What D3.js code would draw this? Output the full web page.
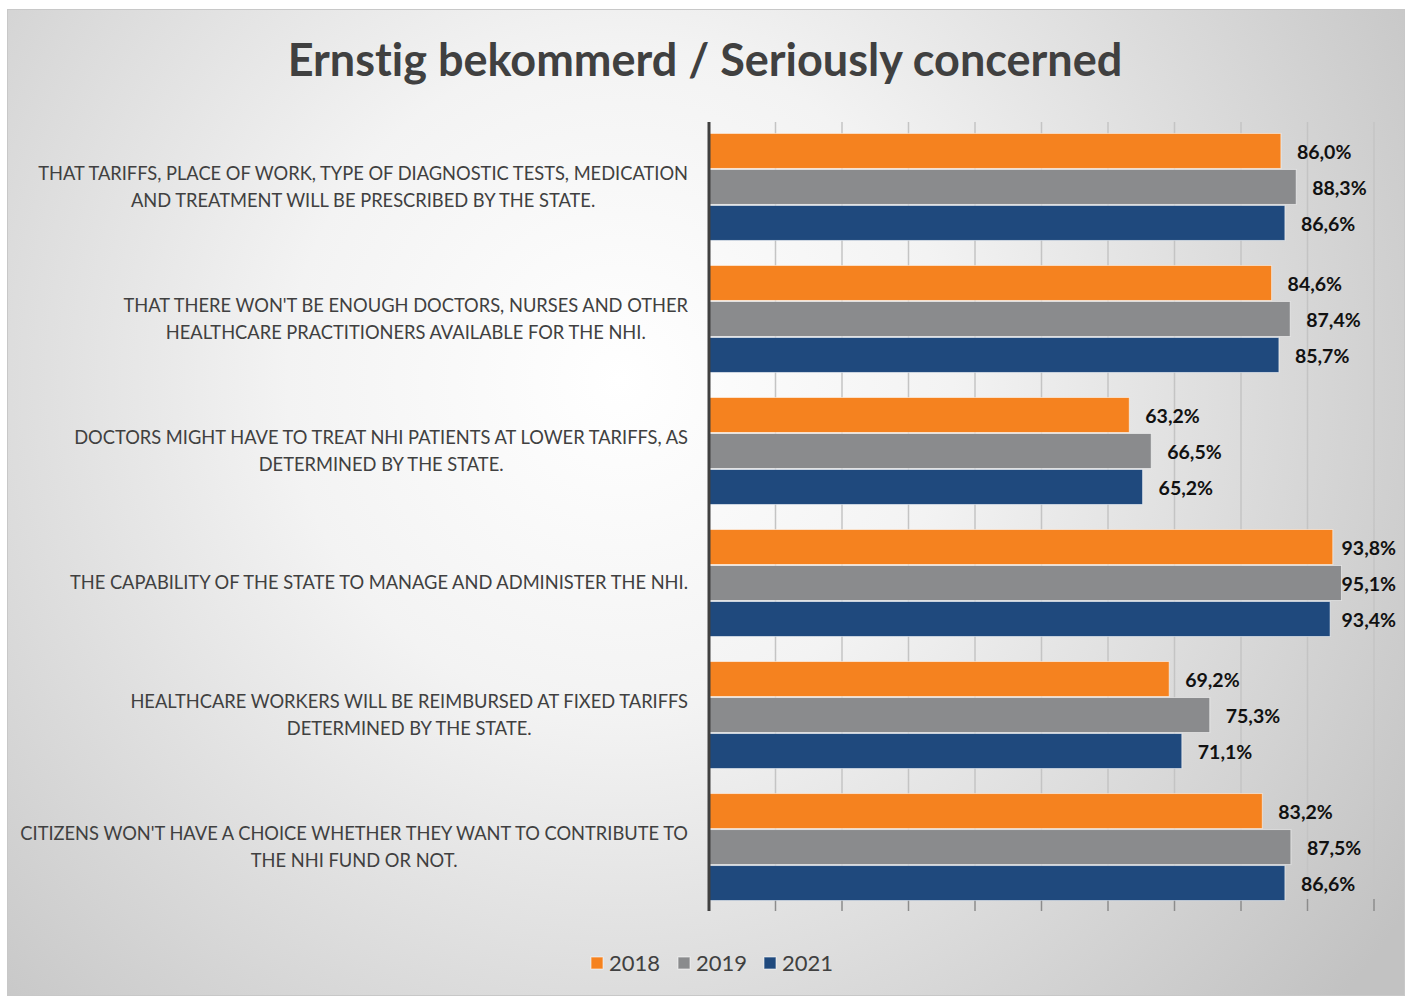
<!DOCTYPE html>
<html>
<head>
<meta charset="utf-8">
<script src="https://cdn.jsdelivr.net/npm/d3@7"></script>
<style>
  body { margin: 0; background: #fff; }
  text { font-family: Lato, "Open Sans", sans-serif; font-variant-ligatures: none; }
</style>
</head>
<body>
<script>
(function() {

    var categories = [
        ["THAT TARIFFS, PLACE OF WORK, TYPE OF DIAGNOSTIC TESTS, MEDICATION", "AND TREATMENT WILL BE PRESCRIBED BY THE STATE."],
        ["THAT THERE WON'T BE ENOUGH DOCTORS, NURSES AND OTHER", "HEALTHCARE PRACTITIONERS AVAILABLE FOR THE NHI."],
        ["DOCTORS MIGHT HAVE TO TREAT NHI PATIENTS AT LOWER TARIFFS, AS", "DETERMINED BY THE STATE."],
        ["THE CAPABILITY OF THE STATE TO MANAGE AND ADMINISTER THE NHI."],
        ["HEALTHCARE WORKERS WILL BE REIMBURSED AT FIXED TARIFFS", "DETERMINED BY THE STATE."],
        ["CITIZENS WON'T HAVE A CHOICE WHETHER THEY WANT TO CONTRIBUTE TO", "THE NHI FUND OR NOT."]
    ];

    var series = ['2018', '2019', '2021'];
    var values2018 = [86.0, 84.6, 63.2, 93.8, 69.2, 83.2];
    var values2019 = [88.3, 87.4, 66.5, 95.1, 75.3, 87.5];
    var values2021 = [86.6, 85.7, 65.2, 93.4, 71.1, 86.6];
    var colours = ['#F5821F', '#8A8B8D', '#1F497D'];
    var xTicks = [0, 10, 20, 30, 40, 50, 60, 70, 80, 90, 100];

    var seriesValues = [values2018, values2019, values2021];

    var W = 1408, H = 996;
    var svg = d3.select('body').append('svg')
        .attr('width', W)
        .attr('height', H);

    // background gradient
    var defs = svg.append('defs');
    var grad = defs.append('radialGradient')
        .attr('id', 'bg')
        .attr('gradientUnits', 'userSpaceOnUse')
        .attr('cx', 620).attr('cy', 380).attr('r', 950);
    grad.append('stop').attr('offset', '0').attr('stop-color', '#ffffff');
    grad.append('stop').attr('offset', '0.35').attr('stop-color', '#f3f3f3');
    grad.append('stop').attr('offset', '1').attr('stop-color', '#c2c2c2');

    svg.append('rect')
        .attr('x', 7.5).attr('y', 9.5)
        .attr('width', 1397).attr('height', 986)
        .attr('fill', 'url(#bg)')
        .attr('stroke', '#c8c8c8');

    // title
    svg.append('text')
        .attr('x', 705).attr('y', 76)
        .attr('text-anchor', 'middle')
        .attr('font-size', 45)
        .attr('font-weight', 'bold')
        .attr('fill', '#404040')
        .text('Ernstig bekommerd / Seriously concerned');

    var x = d3.scaleLinear().domain([0, 100]).range([709, 1374]);

    var y = d3.scaleBand()
        .domain(d3.range(categories.length))
        .range([122, 912])
        .paddingInner(0.182)
        .paddingOuter(0.083);

    var ySub = d3.scaleBand()
        .domain(series)
        .range([0, y.bandwidth()]);

    // gridlines
    svg.append('g').selectAll('line')
        .data(xTicks.slice(1))
        .enter().append('line')
        .attr('x1', function(d) { return x(d); })
        .attr('x2', function(d) { return x(d); })
        .attr('y1', 122).attr('y2', 899)
        .attr('stroke', '#c4c4c4')
        .attr('stroke-width', 1.5);

    // tick marks below plot
    svg.append('g').selectAll('line')
        .data(xTicks.slice(1))
        .enter().append('line')
        .attr('x1', function(d) { return x(d); })
        .attr('x2', function(d) { return x(d); })
        .attr('y1', 899).attr('y2', 911)
        .attr('stroke', '#8c8c8c')
        .attr('stroke-width', 1.5);

    // bars
    var groups = svg.append('g').selectAll('g')
        .data(categories)
        .enter().append('g')
        .attr('transform', function(d, i) { return 'translate(0,' + y(i) + ')'; });

    groups.each(function(d, i) {
        var g = d3.select(this);
        series.forEach(function(s, j) {
            var v = seriesValues[j][i];
            g.append('rect')
                .attr('x', x(0))
                .attr('y', ySub(s) + 0.5)
                .attr('width', x(v) - x(0))
                .attr('height', ySub.bandwidth() - 1)
                .attr('fill', colours[j])
                .attr('stroke', 'rgba(255,255,255,0.55)')
                .attr('stroke-width', 1);
            var t = g.append('text')
                .attr('y', ySub(s) + ySub.bandwidth() / 2)
                .attr('dy', '0.4em')
                .attr('font-size', 19.5)
                .attr('font-weight', 'bold')
                .attr('fill', '#111')
                .text(v.toFixed(1).replace('.', ',') + '%');
            var tw = t.node().getComputedTextLength();
            // keep label inside the chart area
            t.attr('x', Math.min(x(v) + 16, 1396 - tw));
        });

        // category label
        var lbl = g.append('text')
            .attr('font-size', 18.3)
            .attr('fill', '#404040')
            .attr('text-anchor', 'middle');
        var n = d.length;
        d.forEach(function(line, k) {
            lbl.append('tspan')
                .attr('y', y.bandwidth() / 2 + (k - (n - 1) / 2) * 26.5)
                .attr('dy', '0.35em')
                .text(line);
        });
        var maxW = 0;
        lbl.selectAll('tspan').each(function() {
            maxW = Math.max(maxW, this.getComputedTextLength());
        });
        lbl.selectAll('tspan').attr('x', 688 - maxW / 2);
    });

    // axis line
    svg.append('line')
        .attr('x1', x(0)).attr('x2', x(0))
        .attr('y1', 122).attr('y2', 911)
        .attr('stroke', '#404040')
        .attr('stroke-width', 3);

    // legend
    var legend = svg.append('g').attr('transform', 'translate(591,963)');
    var legX = [0, 87, 173];
    series.forEach(function(s, j) {
        legend.append('rect')
            .attr('x', legX[j]).attr('y', -6)
            .attr('width', 12).attr('height', 12)
            .attr('fill', colours[j])
            .attr('stroke', 'rgba(255,255,255,0.6)');
        legend.append('text')
            .attr('x', legX[j] + 18).attr('y', 0)
            .attr('dy', '0.36em')
            .attr('font-size', 22)
            .attr('fill', '#404040')
            .text(s);
    });

})();
</script>
</body>
</html>
